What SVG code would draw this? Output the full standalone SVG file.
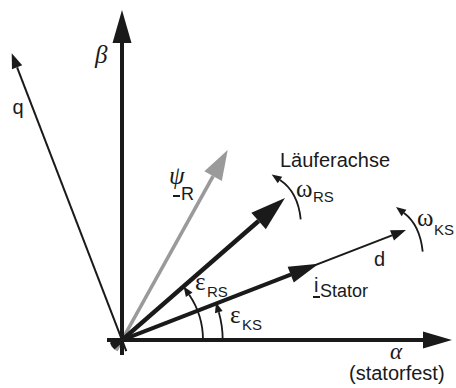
<svg xmlns="http://www.w3.org/2000/svg" width="456" height="388" viewBox="0 0 456 388">
<defs>
<style>
.ax{stroke:#1a1a1a;fill:none;stroke-linecap:butt}
.thick{stroke-width:4}
.thin{stroke-width:2}
.arc{stroke:#1a1a1a;stroke-width:1.8;fill:none}
.gray{stroke:#9a9a9a;stroke-width:3.6;fill:none}
.sans{font-family:"Liberation Sans",Arial,sans-serif;fill:#1a1a1a}
.serif{font-family:"Liberation Serif","Times New Roman",serif;fill:#1a1a1a}
.it{font-style:italic}
.sub{font-size:15px}
.gr{font-size:25px}
.ul{stroke:#1a1a1a;stroke-width:2}
</style>
<marker id="mBeta" markerUnits="userSpaceOnUse" orient="auto" refX="0" refY="0" markerWidth="40" markerHeight="30" overflow="visible"><path d="M0,-9.5 L33,0 L0,9.5 z" fill="#1a1a1a"/></marker>
<marker id="mAlpha" markerUnits="userSpaceOnUse" orient="auto" refX="0" refY="0" markerWidth="40" markerHeight="30" overflow="visible"><path d="M0,-8.5 L29,0 L0,8.5 z" fill="#1a1a1a"/></marker>
<marker id="mLauf" markerUnits="userSpaceOnUse" orient="auto" refX="0" refY="0" markerWidth="40" markerHeight="30" overflow="visible"><path d="M0,-11 L35,0 L0,11 z" fill="#1a1a1a"/></marker>
<marker id="mPsi" markerUnits="userSpaceOnUse" orient="auto" refX="0" refY="0" markerWidth="40" markerHeight="30" overflow="visible"><path d="M0,-10 L30,0 L0,10 z" fill="#9a9a9a"/></marker>
<marker id="mStator" markerUnits="userSpaceOnUse" orient="auto" refX="0" refY="0" markerWidth="40" markerHeight="30" overflow="visible"><path d="M0,-8.5 L30,0 L0,8.5 z" fill="#1a1a1a"/></marker>
<marker id="mThin" markerUnits="userSpaceOnUse" orient="auto" refX="0" refY="0" markerWidth="20" markerHeight="20" overflow="visible"><path d="M0,-5.5 L15,0 L0,5.5 z" fill="#1a1a1a"/></marker>
<marker id="mArc" markerUnits="userSpaceOnUse" orient="auto" refX="0" refY="0" markerWidth="20" markerHeight="20" overflow="visible"><path d="M0,-4 L10,0 L0,4 z" fill="#1a1a1a"/></marker>
</defs>
<rect width="456" height="388" fill="#ffffff"/>

<g id="connectors">
  <path id="psiR-vector" class="gray" d="M116.2,350.5 L213.1,176.2" marker-end="url(#mPsi)"/>
  <path id="q-axis" class="ax thin" d="M126.3,351.2 L17.1,67.3" marker-end="url(#mThin)"/>
  <path id="d-axis" class="ax thin" d="M110.8,344.3 L392,235.4" marker-end="url(#mThin)"/>
  <path id="beta-axis" class="ax thick" d="M122,355 V43" marker-end="url(#mBeta)"/>
  <path id="alpha-axis" class="ax thick" d="M107,340 H423" marker-end="url(#mAlpha)"/>
  <path id="laeuferachse" class="ax" stroke-width="4.5" d="M113,347.9 L258.6,221" marker-end="url(#mLauf)"/>
  <path id="istator-vector" class="ax thick" d="M110.8,344.3 L290.7,274.6" marker-end="url(#mStator)"/>
  <path id="eps-rs-arc" class="arc" d="M203,340 A81,81 0 0 0 189.2,294.7" marker-end="url(#mArc)"/>
  <path id="eps-ks-arc" class="arc" d="M222.7,340 A100.7,100.7 0 0 0 218.8,312.2" marker-end="url(#mArc)"/>
  <path id="omega-rs-arc" class="arc" d="M300.7,219.3 Q298,192 280,180" marker-end="url(#mArc)"/>
  <path id="omega-ks-arc" class="arc" d="M422.7,251.7 Q420,225 404,213" marker-end="url(#mArc)"/>
</g>

<g id="beta-label"><text class="serif it" x="95" y="63" font-size="25">β</text></g>
<g id="alpha-label">
  <text class="serif it" x="390" y="359" font-size="23">α</text>
  <text class="sans" x="349" y="380" font-size="20">(statorfest)</text>
</g>
<g id="q-label"><text class="sans" x="12.5" y="113.5" font-size="20">q</text></g>
<g id="d-label"><text class="sans" x="374" y="266" font-size="20">d</text></g>
<g id="laeuferachse-label"><text class="sans" x="280" y="167" font-size="20">Läuferachse</text></g>
<g id="psiR-label">
  <text class="serif it" x="169" y="184" font-size="25">ψ</text>
  <line class="ul" x1="173" y1="196" x2="180" y2="196"/>
  <text class="sans" x="181" y="200" font-size="18">R</text>
</g>
<g id="istator-label">
  <text class="sans" x="314" y="292" font-size="20">i</text>
  <line class="ul" x1="313" y1="297" x2="320" y2="297"/>
  <text class="sans" x="320" y="297" font-size="18">Stator</text>
</g>
<g id="omega-rs-label">
  <text class="serif gr" x="296" y="197">ω</text>
  <text class="sans sub" x="313" y="202">RS</text>
</g>
<g id="omega-ks-label">
  <text class="serif gr" x="417" y="226">ω</text>
  <text class="sans sub" x="434" y="235">KS</text>
</g>
<g id="eps-rs-label">
  <text class="serif gr" x="195" y="290">ε</text>
  <text class="sans sub" x="207" y="297">RS</text>
</g>
<g id="eps-ks-label">
  <text class="serif gr" x="230" y="323">ε</text>
  <text class="sans sub" x="242" y="330">KS</text>
</g>
</svg>
